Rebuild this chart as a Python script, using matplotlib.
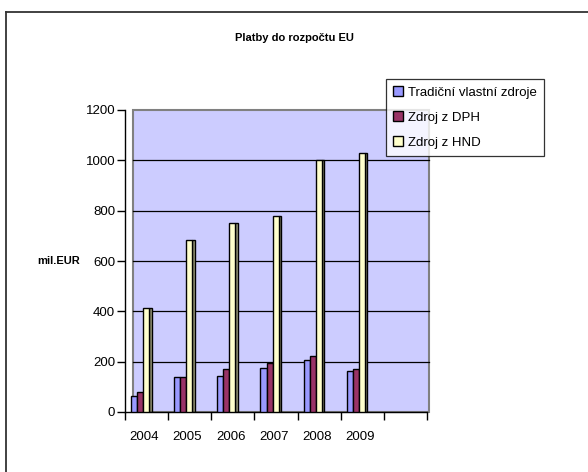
import matplotlib
matplotlib.use("Agg")
import matplotlib.pyplot as plt
from matplotlib.patches import Rectangle, Patch
from matplotlib.lines import Line2D
import numpy as np

plt.rcParams['font.family'] = ['Liberation Sans', 'DejaVu Sans']

title = "Platby do rozpočtu EU"
ylabel = "mil.EUR"
years = ["2004", "2005", "2006", "2007", "2008", "2009", ""]
series_names = ["Tradiční vlastní zdroje", "Zdroj z DPH", "Zdroj z HND"]
tradicni = [62, 138, 145, 176, 205, 164]
dph = [80, 138, 170, 193, 222, 172]
hnd = [415, 682, 750, 780, 1002, 1030]
yticks = [0, 200, 400, 600, 800, 1000, 1200]

colors = ["#9999FF", "#993366", "#FFFFCC"]
side_color = "#9C9C7A"
wall_color = "#CCCCFF"

W, H = 588, 472
fig = plt.figure(figsize=(W / 100, H / 100), dpi=100)
fig.patch.set_facecolor("white")

# outer chart frame (left and top visible)
fig.add_artist(Line2D([6 / W, 1.0], [1 - 11.5 / H, 1 - 11.5 / H], transform=fig.transFigure,
                      color="#333333", lw=1.3))
fig.add_artist(Line2D([6 / W, 6 / W], [0, 1 - 11.5 / H], transform=fig.transFigure,
                      color="#333333", lw=1.3))

ax = fig.add_axes([125 / W, 1 - 412 / H, 302 / W, 302 / H])
ax.set_facecolor("none")
ncat = len(years)
ax.set_xlim(0, ncat)
ax.set_ylim(0, 1200)

# wall
wx0 = 8 / 43.1
ax.add_patch(Rectangle((wx0, 0), ncat + 0.04 - wx0, 1200, facecolor=wall_color,
                       edgecolor="#808080", lw=1.5, zorder=0, clip_on=False))
for t in yticks[1:-1]:
    ax.plot([wx0, ncat + 0.04], [t, t], color="black", lw=0.9, zorder=1, clip_on=False)

x = np.arange(len(tradicni))
w = 0.14
ax.bar(x + 0.14, tradicni, w, align="edge", color=colors[0], edgecolor="black", lw=1.0, zorder=3)
ax.bar(x + 0.28, dph, w, align="edge", color=colors[1], edgecolor="black", lw=1.0, zorder=3)
ax.bar(x + 0.42, hnd, w, align="edge", color=colors[2], edgecolor="black", lw=1.0, zorder=3)
ax.bar(x + 0.56, hnd, 0.06, align="edge", color=side_color, edgecolor="black", lw=1.0, zorder=2)

# axes styling
for s in ["top", "right"]:
    ax.spines[s].set_visible(False)
ax.spines["left"].set_color("black")
ax.spines["bottom"].set_color("black")
ax.spines["left"].set_linewidth(1.0)
ax.spines["bottom"].set_linewidth(1.0)
ax.set_yticks(yticks)
ax.set_yticklabels([str(v) for v in yticks], fontsize=9.5)
ax.tick_params(axis="y", length=6, width=1.0, pad=1)

ax.set_xticks(np.arange(ncat + 1))
ax.set_xticklabels([])
ax.set_xticks(np.arange(ncat) + 0.45, minor=True)
ax.set_xticklabels(years, minor=True, fontsize=9.5)
ax.tick_params(axis="x", which="major", length=6, width=1.0, direction="out")
ax.tick_params(axis="x", which="minor", length=0, pad=14)

fig.text(294 / W, 1 - 38 / H, title, ha="center", va="center", fontsize=8, fontweight="bold")
fig.text(59 / W, 1 - 261 / H, ylabel, ha="center", va="center", fontsize=8, fontweight="bold")

handles = [Patch(facecolor=c, edgecolor="black", lw=1.0) for c in colors]
leg = fig.legend(handles, series_names, loc="upper left",
                 bbox_to_anchor=(386 / W, 1 - 79 / H), fontsize=9.5, frameon=True,
                 fancybox=False, handlelength=0.75, handleheight=0.75, handletextpad=0.35,
                 labelspacing=0.95, borderpad=0.55, borderaxespad=0)
leg.get_frame().set_edgecolor("black")
leg.get_frame().set_linewidth(0.9)

fig.savefig("out.png", dpi=100, facecolor="white")
